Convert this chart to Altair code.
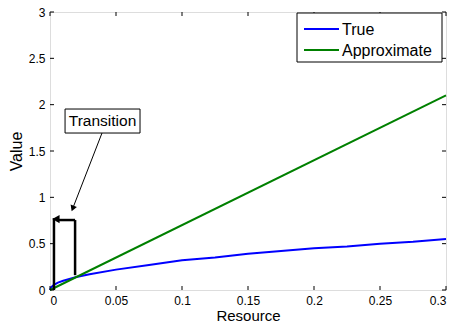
import altair as alt
import pandas as pd

# True curve
true_x = [0, 0.001, 0.003, 0.006, 0.01, 0.02, 0.03, 0.05, 0.075, 0.1, 0.125, 0.15, 0.175, 0.2, 0.225, 0.25, 0.275, 0.3]
true_y = [0, 0.03, 0.055, 0.08, 0.10, 0.14, 0.17, 0.22, 0.27, 0.32, 0.35, 0.39, 0.42, 0.45, 0.47, 0.50, 0.52, 0.55]
# Approximate line
approx_x = [0, 0.3]
approx_y = [0, 2.1]

x_ticks = [0, 0.05, 0.1, 0.15, 0.2, 0.25, 0.3]
y_ticks = [0, 0.5, 1, 1.5, 2, 2.5, 3]

# Bracket segments
seg_x1 = [0.003, 0.019, 0.019]
seg_y1 = [0.0, 0.16, 0.755]
seg_x2 = [0.003, 0.019, 0.005]
seg_y2 = [0.775, 0.755, 0.755]
bracket_head_x = [0.0045]
bracket_head_y = [0.765]

# Annotation
ann_text = ["Transition"]
ann_box_x = [0.0114]
ann_box_x2 = [0.0682]
ann_box_y = [1.694]
ann_box_y2 = [1.953]
ann_arrow_x = [0.0394]
ann_arrow_y = [1.694]
ann_arrow_x2 = [0.0172]
ann_arrow_y2 = [0.88]

series_order = ["True", "Approximate"]
colors = ["#0000ff", "#008000"]

W, H = 396, 278
FONT = "Liberation Sans"

lines = pd.DataFrame(
    {"x": true_x + approx_x,
     "y": true_y + approx_y,
     "s": ["True"] * len(true_x) + ["Approximate"] * len(approx_x)}
)

xs = alt.Scale(domain=[0, 0.3], nice=False, zero=False)
ys = alt.Scale(domain=[0, 3], nice=False, zero=False)

xaxis = alt.Axis(values=x_ticks, format="~g", tickSize=0, labelPadding=5, grid=False,
                 domain=False, titlePadding=2, labelFontSize=12, titleFontSize=15,
                 titleFontWeight="normal", labelColor="black", titleColor="black")
yaxis = alt.Axis(values=y_ticks, format="~g", tickSize=0, labelPadding=5, grid=False,
                 domain=False, titlePadding=4, labelFontSize=12, titleFontSize=16,
                 titleFontWeight="normal", labelColor="black", titleColor="black")

line_chart = alt.Chart(lines).mark_line(strokeWidth=2).encode(
    x=alt.X("x:Q", scale=xs, axis=xaxis, title="Resource"),
    y=alt.Y("y:Q", scale=ys, axis=yaxis, title="Value"),
    color=alt.Color("s:N", scale=alt.Scale(domain=series_order, range=colors), legend=None),
    order="x:Q",
)

# inward ticks
xt = pd.DataFrame({"v": x_ticks})
yt = pd.DataFrame({"v": y_ticks})
tick_bottom = alt.Chart(xt).mark_rule(color="black", strokeWidth=1).encode(
    x=alt.X("v:Q", scale=xs), y=alt.value(H), y2=alt.value(H - 4))
tick_top = alt.Chart(xt).mark_rule(color="black", strokeWidth=1).encode(
    x=alt.X("v:Q", scale=xs), y=alt.value(0), y2=alt.value(4))
tick_left = alt.Chart(yt).mark_rule(color="black", strokeWidth=1).encode(
    y=alt.Y("v:Q", scale=ys), x=alt.value(0), x2=alt.value(4))
tick_right = alt.Chart(yt).mark_rule(color="black", strokeWidth=1).encode(
    y=alt.Y("v:Q", scale=ys), x=alt.value(W), x2=alt.value(W - 4))

segs = pd.DataFrame({"x1": seg_x1, "y1": seg_y1, "x2": seg_x2, "y2": seg_y2})
bracket = alt.Chart(segs).mark_rule(color="black", strokeWidth=2.5).encode(
    x=alt.X("x1:Q", scale=xs), y=alt.Y("y1:Q", scale=ys), x2="x2:Q", y2="y2:Q")
bhead = alt.Chart(pd.DataFrame({"x": bracket_head_x, "y": bracket_head_y})).mark_point(
    shape="triangle-left", filled=True, color="black", size=70, opacity=1).encode(
    x=alt.X("x:Q", scale=xs), y=alt.Y("y:Q", scale=ys))

ann = pd.DataFrame({"t": ann_text, "bx": ann_box_x, "bx2": ann_box_x2, "by": ann_box_y, "by2": ann_box_y2,
                    "ax": ann_arrow_x, "ay": ann_arrow_y, "ax2": ann_arrow_x2, "ay2": ann_arrow_y2})
ann_box = alt.Chart(ann).mark_rect(fill="white", stroke="black", strokeWidth=1).encode(
    x=alt.X("bx:Q", scale=xs), x2="bx2:Q", y=alt.Y("by:Q", scale=ys), y2="by2:Q")
ann_txt = alt.Chart(ann).transform_calculate(cx="(datum.bx+datum.bx2)/2", cy="(datum.by+datum.by2)/2").mark_text(
    fontSize=15.5, color="black", font=FONT, baseline="middle", align="center").encode(
    x=alt.X("cx:Q", scale=xs), y=alt.Y("cy:Q", scale=ys), text="t:N")
ann_line = alt.Chart(ann).mark_rule(color="black", strokeWidth=1).encode(
    x=alt.X("ax:Q", scale=xs), y=alt.Y("ay:Q", scale=ys), x2="ax2:Q", y2="ay2:Q")
ann_head = alt.Chart(ann).mark_point(shape="triangle-up", filled=True, color="black", size=45,
                                     angle=201, opacity=1).encode(
    x=alt.X("ax2:Q", scale=xs), y=alt.Y("ay2:Q", scale=ys))

# manual legend (MATLAB style box)
leg = pd.DataFrame({"s": series_order})
leg_box = alt.Chart(leg.head(1)).mark_rect(fill="white", stroke="black", strokeWidth=1).encode(
    x=alt.value(247), x2=alt.value(392), y=alt.value(1), y2=alt.value(50))
leg_items = []
for i, (name, col) in enumerate(zip(series_order, colors)):
    yy = 17 + i * 21
    d = pd.DataFrame({"s": [name]})
    leg_items.append(alt.Chart(d).mark_rule(color=col, strokeWidth=2).encode(
        x=alt.value(254), x2=alt.value(289), y=alt.value(yy)))
    leg_items.append(alt.Chart(d).mark_text(fontSize=16, font=FONT, color="black", align="left",
                                            baseline="middle").encode(
        x=alt.value(292), y=alt.value(yy + 1), text="s:N"))

chart = alt.layer(
    line_chart, bracket, bhead, ann_line, ann_head, ann_box, ann_txt,
    tick_bottom, tick_top, tick_left, tick_right, leg_box, *leg_items,
).properties(
    width=W, height=H,
    autosize=alt.AutoSizeParams(type="none"),
    padding={"left": 50, "top": 12, "right": 9, "bottom": 33},
    background="white",
).configure_view(stroke="black", strokeWidth=1.5).configure(
    font=FONT
)

chart.save("out.html", embed_options={"renderer": "svg", "actions": False})
